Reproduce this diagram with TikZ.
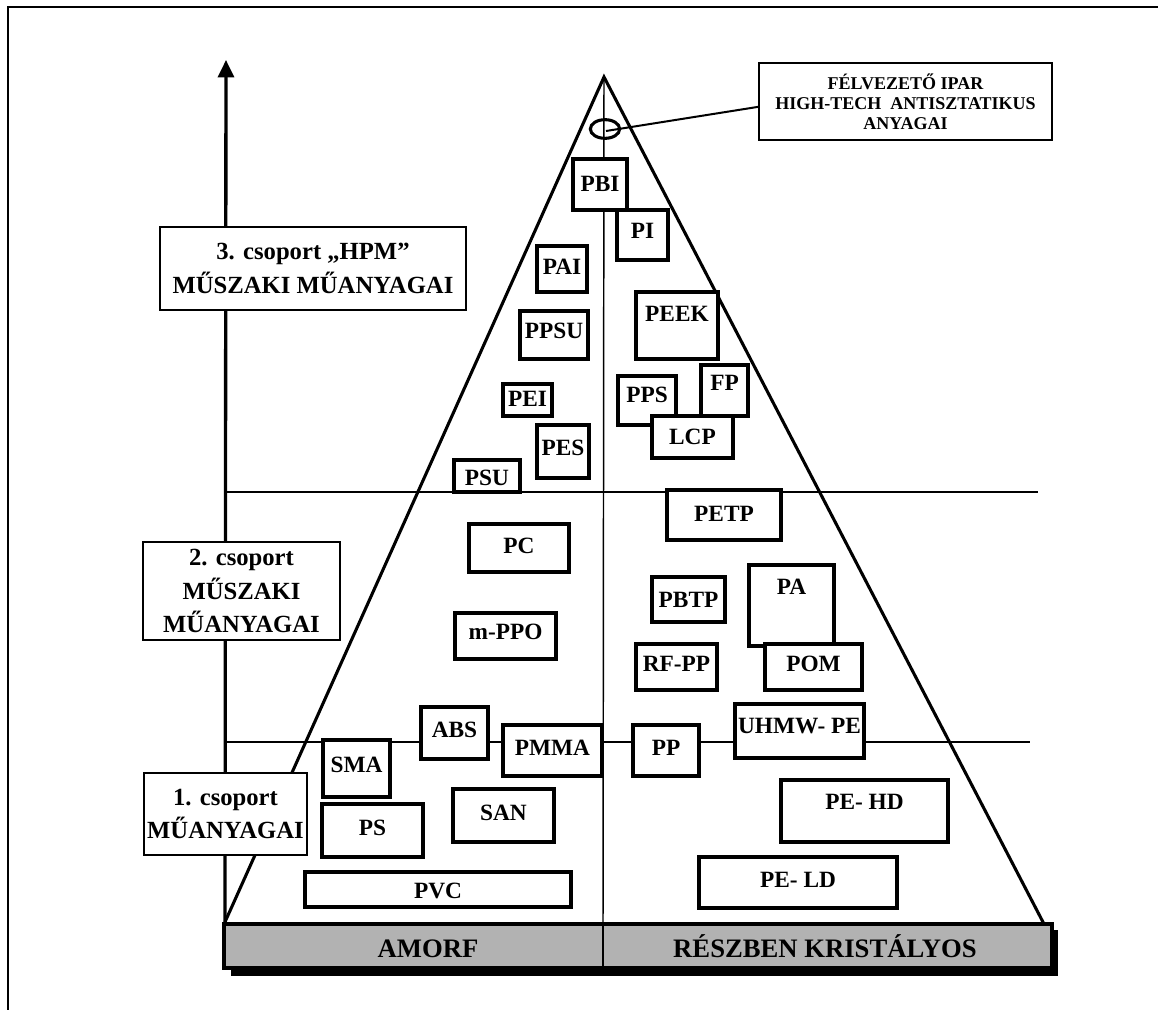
\documentclass[tikz,border=0pt]{standalone}
\usepackage{fontspec}
\setmainfont{Liberation Serif}
\usetikzlibrary{shapes.geometric,arrows.meta,calc}
\newcommand\plbox[7]{%
  \pgfmathsetmacro\pbw{(#4-#2)*0.75}%
  \pgfmathsetmacro\pbh{(#5-#3)*0.75}%
  \node[mbox,minimum width=\pbw pt,minimum height=\pbh pt] (#1) at ({(#2+#4)/2},{(#3+#5)/2}) {};%
  \node[mtext] (#1-t) at ({(#2+#4)/2},#6) {#7};}
\begin{document}
\begin{tikzpicture}[x=0.75pt,y=-0.75pt,
  mbox/.style={draw,fill=white,line width=2.8pt,inner sep=0pt},
  mtext/.style={inner sep=0pt,font=\fontsize{17.5}{20}\selectfont\bfseries},
  grpbox/.style={draw,fill=white,line width=1.1pt,inner sep=0pt,align=center,font=\fontsize{18.5}{25}\selectfont\bfseries},
  bartext/.style={inner sep=0pt,anchor=base,font=\fontsize{20}{24}\selectfont\bfseries},
  guide/.style={line width=1pt},
  side/.style={line width=2.3pt}]
\useasboundingbox (0,0) rectangle (1158,1010);
% frame
\draw[line width=1.6pt] (8,1010) -- (8,7) -- (1158,7);
% key points
\coordinate (bl) at (225,922);
\coordinate (br) at (1044,924);
\coordinate (apex) at (604,77);
\coordinate (axtop) at (226,60);
\coordinate (cbot) at (603,924);
\coordinate (h1l) at (226,492); \coordinate (h1r) at (1038,492);
\coordinate (h2l) at (226,742); \coordinate (h2r) at (1030,742);
% guide lines
\draw[guide] (h1l) -- (h1r);
\draw[guide] (h2l) -- (h2r);
\draw[line width=1.1pt] (apex) -- (cbot);
% axis
\draw[line width=2.5pt,-{Triangle[width=12pt,length=13pt]}] (bl) -- (axtop);
% pyramid
\draw[side,line join=miter] (bl) -- (apex) -- (br);
% ellipse marker and callout
\node[ellipse,draw,line width=2.3pt,minimum width=22pt,minimum height=14pt,inner sep=0pt] (ell) at (605,129) {};
\coordinate (ellc) at (606,131);
\node[draw,fill=white,line width=1.1pt,minimum width=219.75pt,minimum height=57.75pt,align=center,inner sep=0pt,
  font=\fontsize{13.5}{15}\selectfont\bfseries] (callout) at (905.5,101.5)
  {FÉLVEZETŐ IPAR\\HIGH-TECH~ ANTISZTATIKUS\\ANYAGAI};
\draw[line width=1.5pt] ([yshift=-4pt]callout.west) -- (ellc);
% group label boxes
\node[grpbox,minimum width=229.5pt,minimum height=62.25pt] (g3) at (313,268.5)
  {3. csoport „HPM”\\MŰSZAKI MŰANYAGAI};
\node[grpbox,minimum width=147.75pt,minimum height=73.5pt] (g2) at (241.5,591)
  {2. csoport\\MŰSZAKI\\MŰANYAGAI};
\node[grpbox,minimum width=122.25pt,minimum height=61.5pt] (g1) at (225.5,814)
  {1. csoport\\MŰANYAGAI};
% material boxes
\plbox{pbi}{573}{159}{627}{210}{184}{PBI}
\plbox{pi}{617}{210}{668}{260}{231}{PI}
\plbox{pai}{537}{246}{587}{292}{267}{PAI}
\plbox{ppsu}{520}{311}{588}{359}{331}{PPSU}
\plbox{peek}{636}{292}{718}{359}{314}{PEEK}
\plbox{pei}{503}{384}{552}{416}{399}{PEI}
\plbox{pps}{618}{376}{676}{425}{395}{PPS}
\plbox{lcp}{652}{416}{733}{458}{437}{LCP}
\plbox{fp}{701}{365}{748}{416}{383}{FP}
\plbox{pes}{537}{425}{589}{478}{448}{PES}
\plbox{psu}{454}{460}{520}{492}{478}{PSU}
\plbox{petp}{667}{490}{781}{540}{514}{PETP}
\plbox{pc}{469}{524}{569}{572}{546}{PC}
\plbox{pa}{749}{565}{834}{646}{587}{PA}
\plbox{pbtp}{652}{577}{725}{622}{600}{PBTP}
\plbox{mppo}{455}{613}{556}{659}{632}{m-PPO}
\plbox{rfpp}{636}{644}{717}{690}{664}{RF-PP}
\plbox{pom}{765}{644}{862}{690}{664}{POM}
\plbox{abs}{421}{707}{488}{759}{730}{ABS}
\plbox{pmma}{503}{725}{602}{776}{748}{PMMA}
\plbox{pp}{633}{725}{699}{776}{748}{PP}
\plbox{uhmw}{735}{704}{864}{758}{726}{UHMW- PE}
\plbox{sma}{323}{740}{390}{797}{765}{SMA}
\plbox{pehd}{781}{780}{948}{842}{802}{PE- HD}
\plbox{san}{453}{789}{554}{842}{813}{SAN}
\plbox{ps}{322}{804}{423}{857}{828}{PS}
\plbox{pvc}{305}{872}{571}{907}{891}{PVC}
\plbox{peld}{699}{857}{897}{908}{880}{PE- LD}
% base bar
\fill[black] (231,930) rectangle (1058,976);
\node[draw,fill=black!30,line width=2.6pt,minimum width=621pt,minimum height=33pt,inner sep=0pt] (bar) at (638,946) {};
\draw[line width=1pt] (cbot) -- (603,967);
\node[bartext] (amorf) at (428,957) {AMORF};
\node[bartext] (resz) at (825,957) {RÉSZBEN KRISTÁLYOS};
\end{tikzpicture}
\end{document}
